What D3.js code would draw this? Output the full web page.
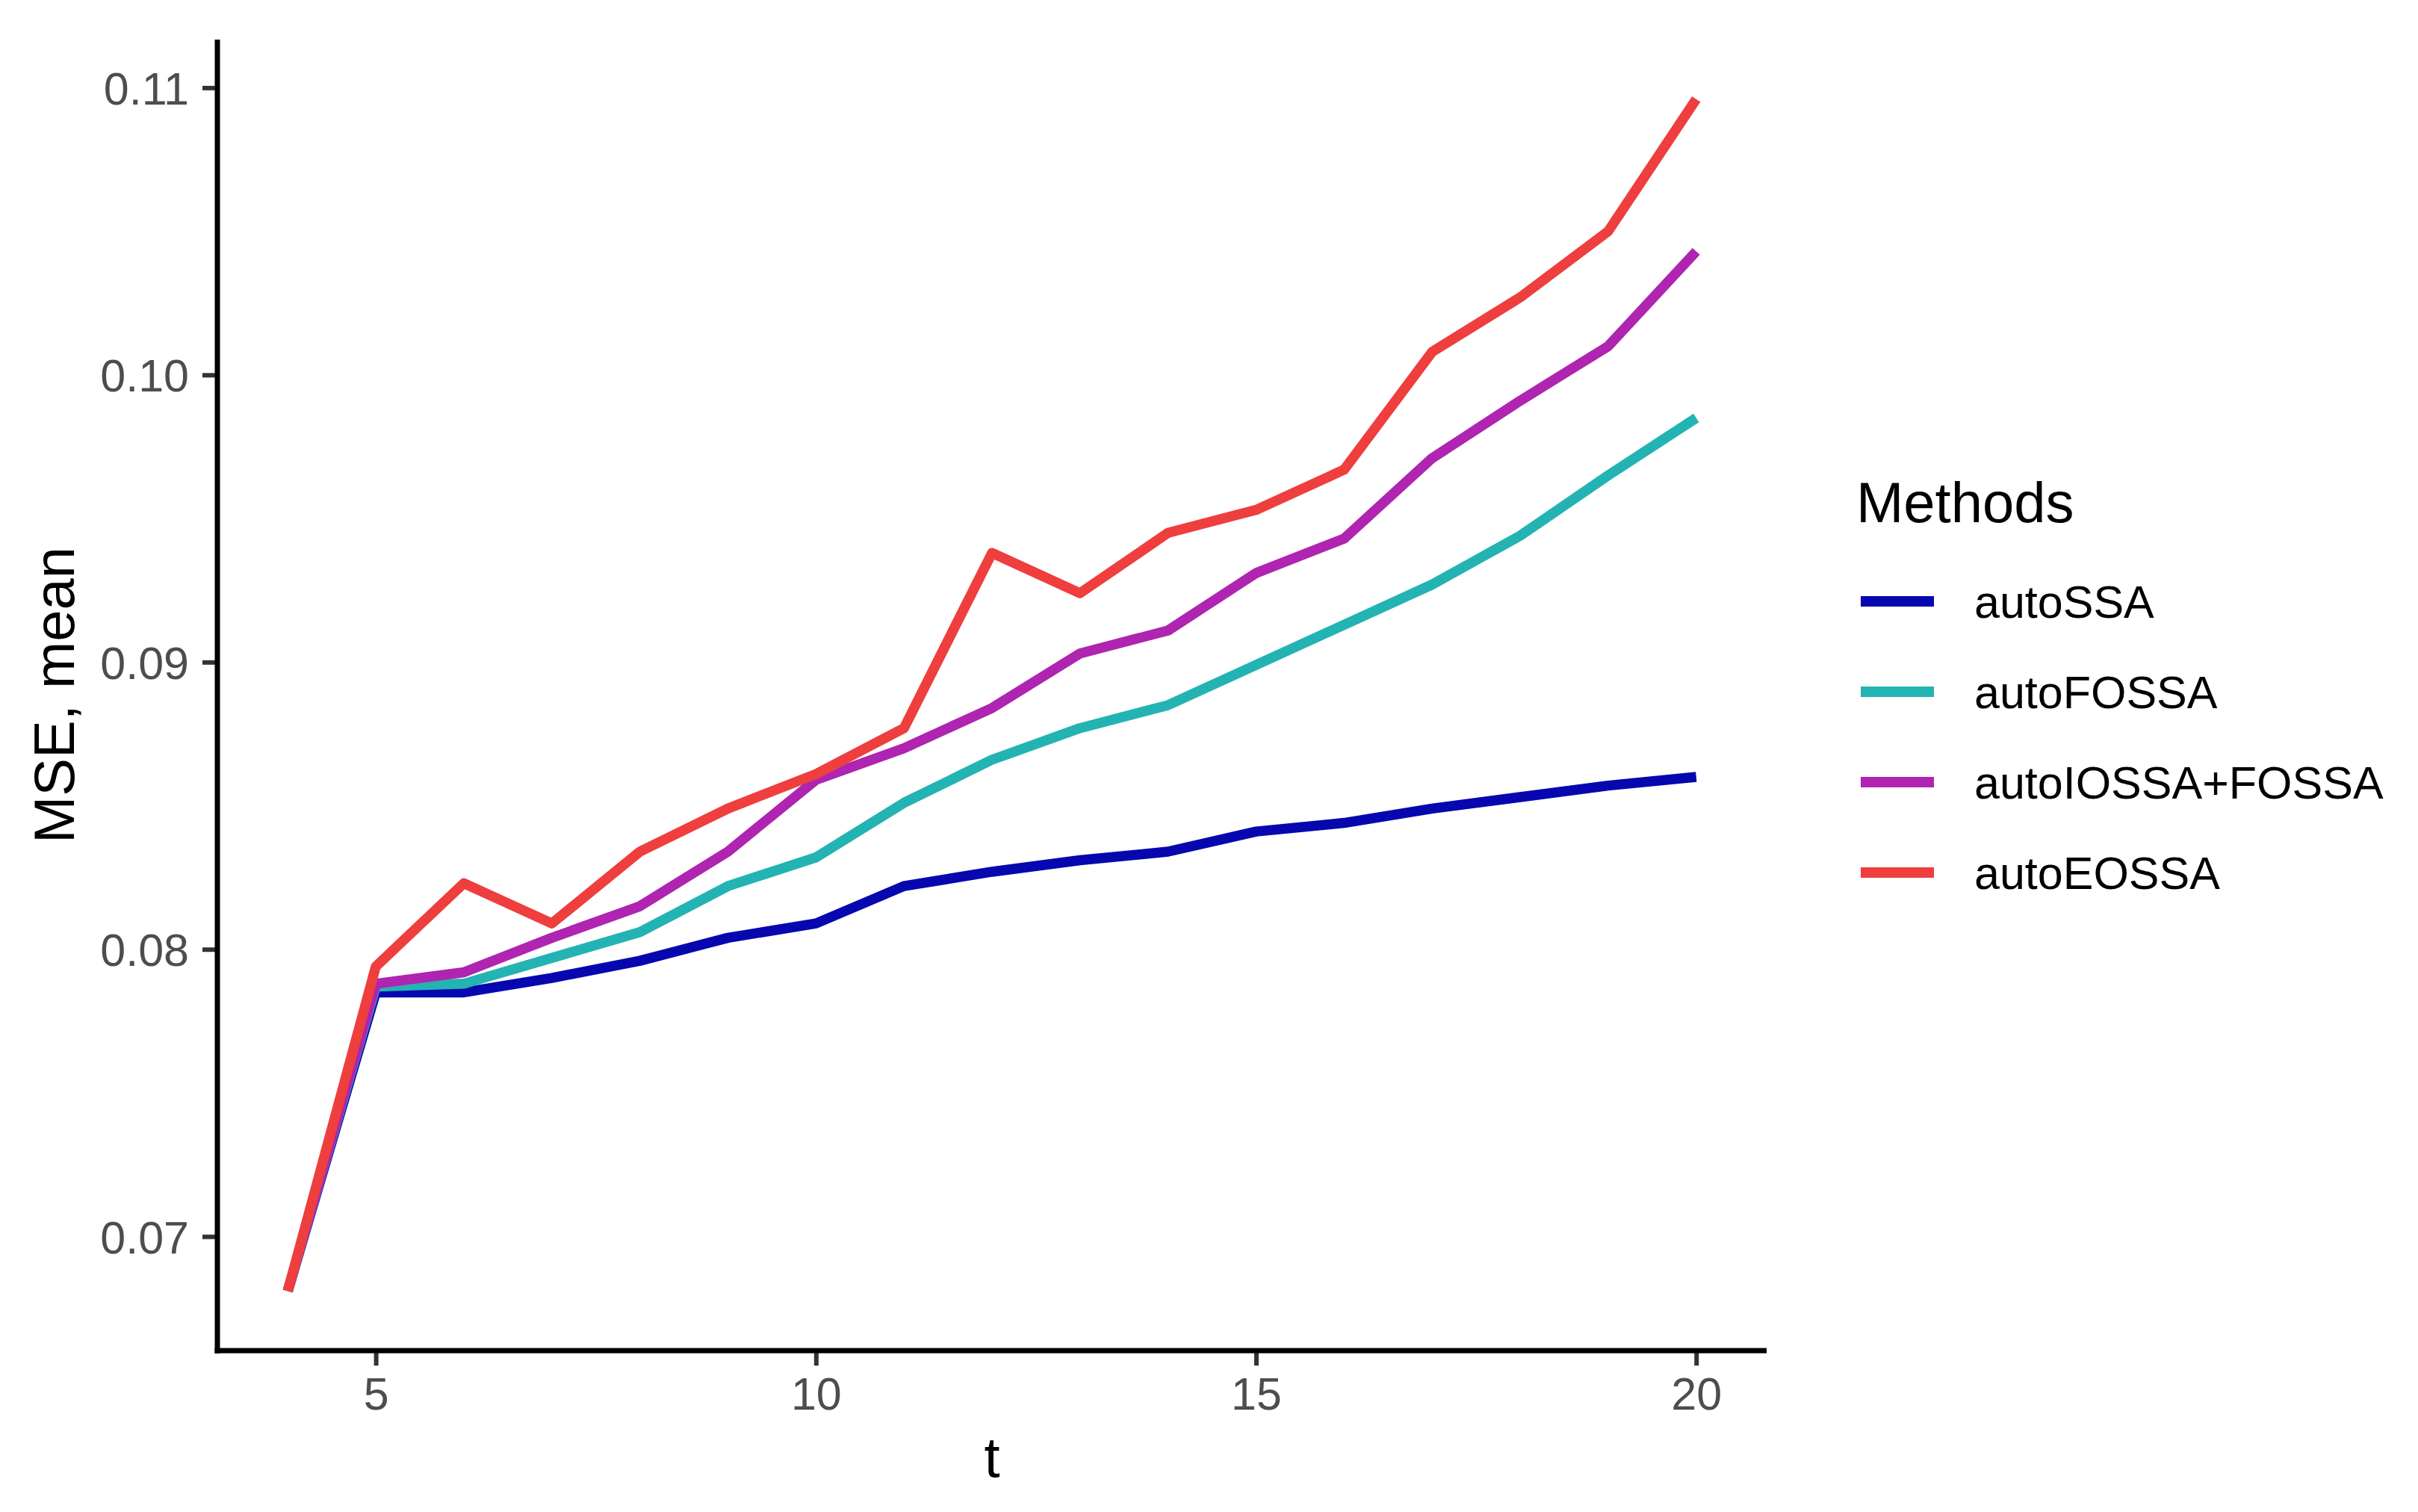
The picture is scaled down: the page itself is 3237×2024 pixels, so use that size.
<!DOCTYPE html>
<html>
<head>
<meta charset="utf-8">
<script src="https://cdn.jsdelivr.net/npm/d3@7"></script>
<style>
  html, body { margin: 0; padding: 0; background: #ffffff; }
  svg { display: block; font-family: "Liberation Sans", Arial, Helvetica, sans-serif; }
</style>
</head>
<body>
<svg id="chart" width="3237" height="2024"></svg>
<script>
// ---- data ----
const tValues = [4, 5, 6, 7, 8, 9, 10, 11, 12, 13, 14, 15, 16, 17, 18, 19, 20];
const methods = ["autoSSA", "autoFOSSA", "autoIOSSA+FOSSA", "autoEOSSA"];
const autoSSA = [0.0681, 0.0785, 0.0785, 0.0790, 0.0796, 0.0804, 0.0809, 0.0822, 0.0827, 0.0831, 0.0834, 0.0841, 0.0844, 0.0849, 0.0853, 0.0857, 0.0860];
const autoFOSSA = [0.0681, 0.0787, 0.0788, 0.0797, 0.0806, 0.0822, 0.0832, 0.0851, 0.0866, 0.0877, 0.0885, 0.0899, 0.0913, 0.0927, 0.0944, 0.0965, 0.0985];
const autoIOSSA_FOSSA = [0.0681, 0.0788, 0.0792, 0.0804, 0.0815, 0.0834, 0.0859, 0.0870, 0.0884, 0.0903, 0.0911, 0.0931, 0.0943, 0.0971, 0.0991, 0.1010, 0.1043];
const autoEOSSA = [0.0681, 0.0794, 0.0823, 0.0809, 0.0834, 0.0849, 0.0861, 0.0877, 0.0938, 0.0924, 0.0945, 0.0953, 0.0967, 0.1008, 0.1027, 0.1050, 0.1096];
const seriesValues = [autoSSA, autoFOSSA, autoIOSSA_FOSSA, autoEOSSA];
const colors = ["#0707B0", "#24B3B3", "#AF24B0", "#EF3E3E"];
const xTicks = [5, 10, 15, 20];
const yTicks = [0.07, 0.08, 0.09, 0.10, 0.11];
const xTitle = "t";
const yTitle = "MSE, mean";
const legendTitle = "Methods";

// ---- layout ----
const panel = { left: 291, right: 2365, top: 53, bottom: 1808 };
const svg = d3.select("#chart");

const xMin = d3.min(tValues), xMax = d3.max(tValues);
const xPad = (xMax - xMin) * 0.05;
const allVals = seriesValues.flat();
const yMin = d3.min(allVals), yMax = d3.max(allVals);
const yPad = (yMax - yMin) * 0.05;

const x = d3.scaleLinear().domain([xMin - xPad, xMax + xPad]).range([panel.left, panel.right]);
const y = d3.scaleLinear().domain([yMin - yPad, yMax + yPad]).range([panel.bottom, panel.top]);

const smallFont = 61, titleFont = 76;

// lines
const line = d3.line().x(d => x(d.t)).y(d => y(d.v));
const g = svg.append("g");
seriesValues.forEach((vals, i) => {
  const data = tValues.map((t, j) => ({ t: t, v: vals[j] }));
  g.append("path")
    .datum(data)
    .attr("d", line)
    .attr("fill", "none")
    .attr("stroke", colors[i])
    .attr("stroke-width", 13.5)
    .attr("stroke-linejoin", "round")
    .attr("stroke-linecap", "butt");
});

// axes
const yAxis = d3.axisLeft(y).tickValues(yTicks).tickFormat(d3.format(".2f")).tickSize(20).tickPadding(18);
const xAxis = d3.axisBottom(x).tickValues(xTicks).tickFormat(d3.format("d")).tickSize(20).tickPadding(16);

const gy = svg.append("g").attr("transform", `translate(${panel.left},0)`).call(yAxis);
const gx = svg.append("g").attr("transform", `translate(0,${panel.bottom})`).call(xAxis);

[gy, gx].forEach(ax => {
  ax.select(".domain").remove();
  ax.selectAll(".tick line").attr("stroke", "#333333").attr("stroke-width", 6);
  ax.selectAll(".tick text")
    .attr("fill", "#4D4D4D")
    .style("font-size", smallFont + "px")
    .style("font-family", '"Liberation Sans", Arial, sans-serif');
});
gy.selectAll(".tick text").attr("dy", "0.36em");
gx.selectAll(".tick text").attr("dy", "0.71em");

// axis lines
svg.append("line")
  .attr("x1", panel.left).attr("x2", panel.left)
  .attr("y1", panel.top).attr("y2", panel.bottom + 3.5)
  .attr("stroke", "#000").attr("stroke-width", 7);
svg.append("line")
  .attr("x1", panel.left - 3.5).attr("x2", panel.right)
  .attr("y1", panel.bottom).attr("y2", panel.bottom)
  .attr("stroke", "#000").attr("stroke-width", 7);

// axis titles
svg.append("text")
  .attr("x", (panel.left + panel.right) / 2)
  .attr("y", 1977)
  .attr("text-anchor", "middle")
  .style("font-size", titleFont + "px")
  .attr("fill", "#000")
  .text(xTitle);

svg.append("text")
  .attr("transform", `translate(99,${(panel.top + panel.bottom) / 2}) rotate(-90)`)
  .attr("text-anchor", "middle")
  .style("font-size", titleFont + "px")
  .attr("fill", "#000")
  .text(yTitle);

// legend
const legend = svg.append("g");
legend.append("text")
  .attr("x", 2485).attr("y", 699)
  .style("font-size", titleFont + "px")
  .attr("fill", "#000")
  .text(legendTitle);

const legendY = d3.scalePoint().domain(methods).range([805, 1168]);
methods.forEach((m, i) => {
  const cy = legendY(m);
  legend.append("line")
    .attr("x1", 2491).attr("x2", 2589)
    .attr("y1", cy).attr("y2", cy)
    .attr("stroke", colors[i]).attr("stroke-width", 14);
  legend.append("text")
    .attr("x", 2643).attr("y", cy)
    .attr("dy", "0.36em")
    .style("font-size", smallFont + "px")
    .attr("fill", "#000")
    .text(m);
});
</script>
</body>
</html>
